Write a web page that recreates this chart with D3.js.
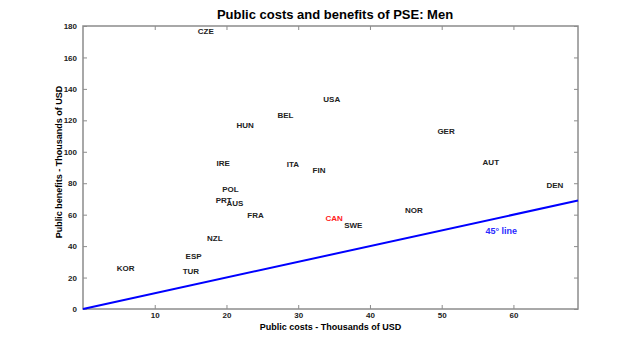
<!DOCTYPE html>
<html>
<head>
<meta charset="utf-8">
<script src="https://cdn.jsdelivr.net/npm/d3@7"></script>
<style>
  body { margin: 0; background: #fff; }
  svg text { font-family: "Liberation Sans", Arial, Helvetica, sans-serif; }
</style>
</head>
<body>
<div id="chart"></div>
<script>
// public costs (x) and benefits (y) per country, thousands of USD
var countries = ["CZE", "USA", "BEL", "HUN", "GER", "IRE", "ITA", "FIN", "AUT", "DEN",
                 "POL", "PRT", "AUS", "FRA", "NOR", "CAN", "SWE", "NZL", "ESP", "KOR", "TUR"];
var costs =     [16.0, 33.5, 27.1, 21.4, 49.4, 18.6, 28.4, 32.0, 55.7, 64.6,
                 19.4, 18.5, 20.0, 22.9, 44.9, 33.8, 36.4, 17.3, 14.3, 4.7, 13.9];
var benefits =  [177.0, 133.6, 123.4, 116.6, 112.8, 92.7, 92.2, 88.0, 93.1, 78.7,
                 76.5, 68.9, 67.2, 59.8, 63.0, 57.9, 53.4, 45.2, 33.7, 25.9, 24.2];
var highlighted = "CAN";

var xTicks = [10, 20, 30, 40, 50, 60];
var yTicks = [0, 20, 40, 60, 80, 100, 120, 140, 160, 180];
var xMax = 69, yMax = 180;
var lineLabel = {x: 56.1, y: 49.6, text: "45° line"};

var width = 640, height = 348;
var margin = {top: 26, right: 62, bottom: 39, left: 83};
var w = width - margin.left - margin.right;
var h = height - margin.top - margin.bottom;

var svg = d3.select("#chart").append("svg")
    .attr("width", width)
    .attr("height", height);

var g = svg.append("g")
    .attr("transform", "translate(" + margin.left + "," + margin.top + ")");

var x = d3.scaleLinear().domain([0, xMax]).range([0, w]);
var y = d3.scaleLinear().domain([0, yMax]).range([h, 0]);

var axisColor = "#8c8c8c";

// boxed axes with inward ticks on all four sides
function styleAxis(sel, showLabels) {
    sel.select(".domain").remove();
    sel.selectAll(".tick line").attr("stroke", axisColor);
    sel.selectAll(".tick text")
        .attr("fill", "#222")
        .style("font-size", "8px")
        .style("font-weight", "bold")
        .style("display", showLabels ? null : "none");
}

g.append("g")
    .attr("transform", "translate(0," + h + ")")
    .call(d3.axisBottom(x).tickValues(xTicks).tickSizeInner(-4).tickPadding(3).tickFormat(d3.format("d")))
    .call(styleAxis, true);
g.append("g")
    .call(d3.axisTop(x).tickValues(xTicks).tickSizeInner(-4).tickFormat(""))
    .call(styleAxis, false);
g.append("g")
    .call(d3.axisLeft(y).tickValues(yTicks).tickSizeInner(-4).tickPadding(6).tickFormat(d3.format("d")))
    .call(styleAxis, true);
g.append("g")
    .attr("transform", "translate(" + w + ",0)")
    .call(d3.axisRight(y).tickValues(yTicks).tickSizeInner(-4).tickFormat(""))
    .call(styleAxis, false);

g.append("rect")
    .attr("width", w)
    .attr("height", h)
    .attr("fill", "none")
    .attr("stroke", axisColor)
    .attr("stroke-width", 1.5);

// 45 degree reference line
g.append("line")
    .attr("x1", x(0)).attr("y1", y(0))
    .attr("x2", x(xMax)).attr("y2", y(xMax))
    .attr("stroke", "#0000ff")
    .attr("stroke-width", 2);

g.append("text")
    .attr("x", x(lineLabel.x))
    .attr("y", y(lineLabel.y))
    .attr("dy", "0.35em")
    .attr("fill", "#2a2aff")
    .style("font-size", "9px")
    .style("font-weight", "bold")
    .text(lineLabel.text);

// country labels: left aligned, vertically centred on the point
g.selectAll(".country")
    .data(countries)
    .enter().append("text")
    .attr("class", "country")
    .attr("x", function (d, i) { return x(costs[i]); })
    .attr("y", function (d, i) { return y(benefits[i]); })
    .attr("dy", "0.35em")
    .attr("fill", function (d) { return d === highlighted ? "#ff2020" : "#222"; })
    .style("font-size", "8px")
    .style("font-weight", "bold")
    .text(function (d) { return d; });

svg.append("text")
    .attr("x", 335)
    .attr("y", 19)
    .attr("text-anchor", "middle")
    .attr("fill", "#000")
    .style("font-size", "13px")
    .style("font-weight", "bold")
    .text("Public costs and benefits of PSE: Men");

svg.append("text")
    .attr("x", margin.left + w / 2)
    .attr("y", 330)
    .attr("text-anchor", "middle")
    .attr("fill", "#000")
    .style("font-size", "9px")
    .style("font-weight", "bold")
    .text("Public costs - Thousands of USD");

svg.append("text")
    .attr("transform", "translate(62,162) rotate(-90)")
    .attr("text-anchor", "middle")
    .attr("fill", "#000")
    .style("font-size", "9px")
    .style("font-weight", "bold")
    .text("Public benefits - Thousands of USD");
</script>
</body>
</html>
